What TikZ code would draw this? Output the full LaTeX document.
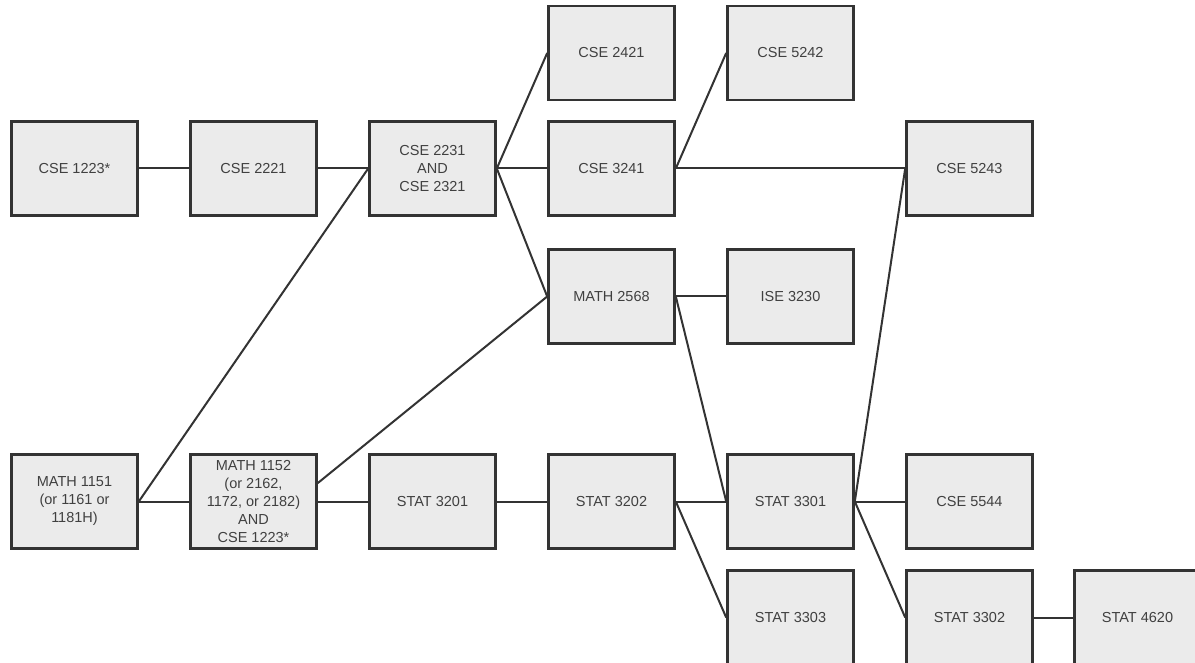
\documentclass[tikz,border=0pt]{standalone}
\usepackage{fontspec}
\setmainfont{Liberation Sans}
\definecolor{boxfill}{HTML}{EBEBEB}
\definecolor{boxline}{HTML}{333333}
\definecolor{boxtext}{HTML}{404040}
\tikzset{
  course/.style={draw=boxline, line width=2.6pt, fill=boxfill, text=boxtext,
    minimum width=126pt, minimum height=94pt, inner sep=2pt, align=center,
    font=\fontsize{14.5}{18}\selectfont},
  prereq/.style={draw=boxline, line width=2pt}
}
\begin{document}
\begin{tikzpicture}[x=1pt, y=-1pt]
    \clip (0,0) rectangle (1195,663);
    \fill[white] (0,0) rectangle (1195,663);

    % Courses
    \node[course] (c1223) at (74.5,168.5) {CSE 1223*};
    \node[course] (c2221) at (253.5,168.5) {CSE 2221};
    \node[course] (c2231) at (432.5,168.5) {CSE 2231\\AND\\CSE 2321};
    \node[course] (c2421) at (611.5,53) {CSE 2421};
    \node[course] (c3241) at (611.5,168.5) {CSE 3241};
    \node[course] (c5242) at (790.5,53) {CSE 5242};
    \node[course] (c5243) at (969.5,168.5) {CSE 5243};
    \node[course] (m2568) at (611.5,296.5) {MATH 2568};
    \node[course] (i3230) at (790.5,296.5) {ISE 3230};
    \node[course] (m1151) at (74.5,501.5) {MATH 1151\\(or 1161 or\\1181H)};
    \node[course] (m1152) at (253.5,501.5) {MATH 1152\\(or 2162,\\1172, or 2182)\\AND\\CSE 1223*};
    \node[course] (s3201) at (432.5,501.5) {STAT 3201};
    \node[course] (s3202) at (611.5,501.5) {STAT 3202};
    \node[course] (s3301) at (790.5,501.5) {STAT 3301};
    \node[course] (s3303) at (790.5,617.5) {STAT 3303};
    \node[course] (c5544) at (969.5,501.5) {CSE 5544};
    \node[course] (s3302) at (969.5,617.5) {STAT 3302};
    \node[course] (s4620) at (1137.5,617.5) {STAT 4620};

    % Prerequisite links
    \draw[prereq] (c1223.east) -- (c2221.west);
    \draw[prereq] (c2221.east) -- (c2231.west);
    \draw[prereq] (m1151.east) -- (c2231.west);
    \draw[prereq] (m1151.east) -- (m1152.west);
    \draw[prereq] (m1152.east) -- (s3201.west);
    \draw[prereq] (m1152.16) -- (m2568.west);
    \draw[prereq] (c2231.east) -- (c2421.west);
    \draw[prereq] (c2231.east) -- (c3241.west);
    \draw[prereq] (c2231.east) -- (m2568.west);
    \draw[prereq] (c3241.east) -- (c5242.west);
    \draw[prereq] (c3241.east) -- (c5243.west);
    \draw[prereq] (m2568.east) -- (i3230.west);
    \draw[prereq] (m2568.east) -- (s3301.west);
    \draw[prereq] (s3201.east) -- (s3202.west);
    \draw[prereq] (s3202.east) -- (s3301.west);
    \draw[prereq] (s3202.east) -- (s3303.west);
    \draw[prereq] (s3301.east) -- (c5243.west);
    \draw[prereq] (s3301.east) -- (c5544.west);
    \draw[prereq] (s3301.east) -- (s3302.west);
    \draw[prereq] (s3302.east) -- (s4620.west);
\end{tikzpicture}
\end{document}
